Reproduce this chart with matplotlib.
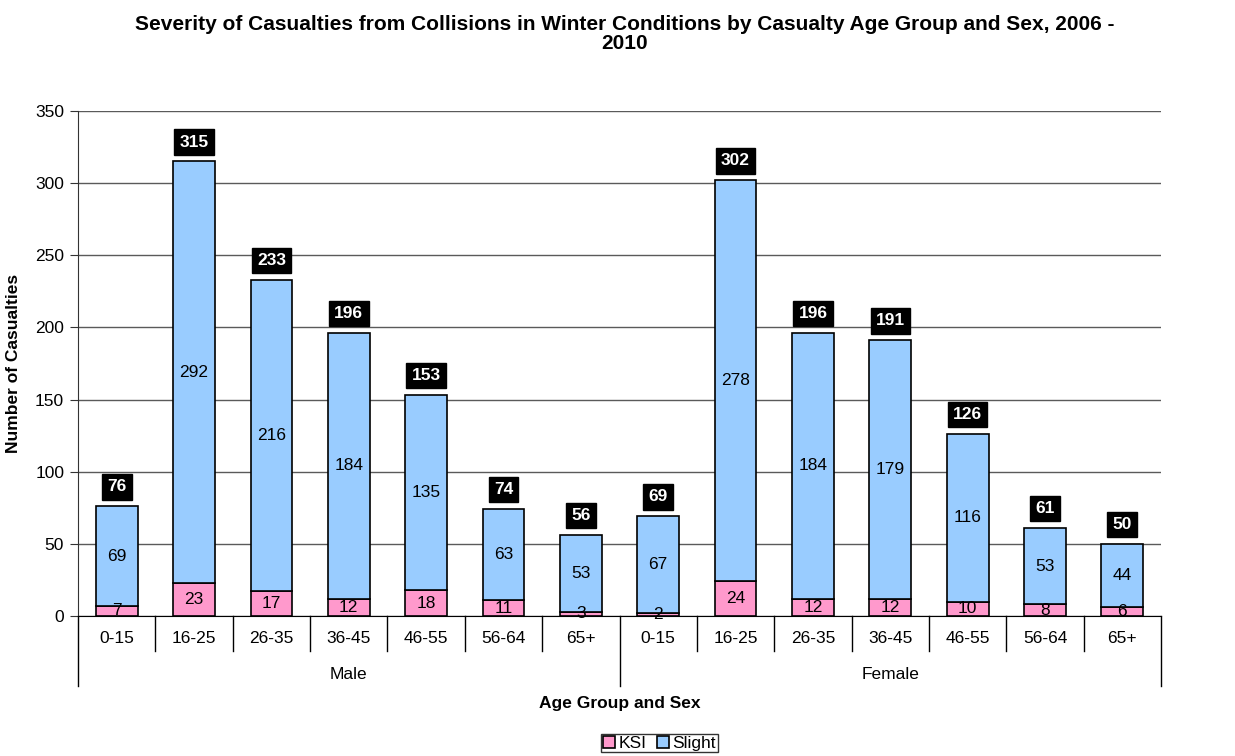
import numpy as np
import matplotlib.pyplot as plt
from matplotlib.transforms import blended_transform_factory

plt.rcParams['font.family'] = ['Liberation Sans', 'DejaVu Sans']

# casualty counts by age group, male then female
ages = ['0-15', '16-25', '26-35', '36-45', '46-55', '56-64', '65+']
sexes = ['Male', 'Female']
ksi_male = [7, 23, 17, 12, 18, 11, 3]
slight_male = [69, 292, 216, 184, 135, 63, 53]
ksi_female = [2, 24, 12, 12, 10, 8, 6]
slight_female = [67, 278, 184, 179, 116, 53, 44]

ksi = np.array(ksi_male + ksi_female)
slight = np.array(slight_male + slight_female)
total = ksi + slight
labels = ages + ages
x = np.arange(len(labels))

fs = 12.5

fig = plt.figure(figsize=(12.35, 7.56), dpi=100)
ax = fig.add_axes([0.0632, 0.1852, 0.8769, 0.668])

ax.set_axisbelow(True)
ax.yaxis.grid(True, color='#5a5a5a', linewidth=1.0)
b1 = ax.bar(x, ksi, width=0.54, color='#FF99CC', edgecolor='black', linewidth=1.2, label='KSI')
b2 = ax.bar(x, slight, width=0.54, bottom=ksi, color='#99CCFF', edgecolor='black', linewidth=1.2, label='Slight')

for i in x:
    ax.text(i, ksi[i] / 2, str(ksi[i]), ha='center', va='center', fontsize=fs)
    ax.text(i, ksi[i] + slight[i] / 2, str(slight[i]), ha='center', va='center', fontsize=fs)
    ax.annotate(str(total[i]), (i, total[i]), xytext=(0, 14), textcoords='offset points',
                ha='center', va='center', fontsize=fs, fontweight='bold', color='white',
                bbox=dict(boxstyle='square,pad=0.3', fc='black', ec='black'))

ax.set_xlim(-0.5, len(labels) - 0.5)
ax.set_ylim(0, 350)
ax.set_yticks(range(0, 351, 50))
ax.tick_params(axis='y', labelsize=fs, length=6, direction='out', pad=4, color='#333333')
ax.set_xticks([])
for s in ['top', 'right']:
    ax.spines[s].set_visible(False)
ax.spines['left'].set_color('#333333')
ax.spines['bottom'].set_color('black')

# two-level category axis
trans = blended_transform_factory(ax.transData, ax.transAxes)
for k in range(len(labels) + 1):
    depth = -0.139 if k % 7 == 0 else -0.069
    ax.plot([k - 0.5, k - 0.5], [0, depth], color='black', linewidth=1.0,
            transform=trans, clip_on=False)
for i, lab in enumerate(labels):
    ax.text(i, -0.0455, lab, transform=trans, ha='center', va='center', fontsize=fs)
for g, sex in enumerate(sexes):
    ax.text(g * 7 + 3, -0.115, sex, transform=trans, ha='center', va='center', fontsize=fs)

ax.text(6.5, -0.174, 'Age Group and Sex', transform=trans, ha='center', va='center',
        fontsize=fs, fontweight='bold')
ax.set_ylabel('Number of Casualties', fontsize=fs, fontweight='bold', labelpad=10)

fig.text(0.506, 0.955, 'Severity of Casualties from Collisions in Winter Conditions by Casualty Age Group and Sex, 2006 -\n2010',
         ha='center', va='center', fontsize=15, fontweight='bold', linespacing=1.05)

leg = fig.legend(handles=[b1, b2], loc='center', bbox_to_anchor=(0.534, 0.017), ncol=2,
                 frameon=True, fancybox=False, edgecolor='black', fontsize=fs,
                 handlelength=0.7, handleheight=0.7, handletextpad=0.2, columnspacing=0.6,
                 borderpad=0.1, borderaxespad=0)
leg.get_frame().set_linewidth(1.0)

fig.savefig('out.png', dpi=100)
